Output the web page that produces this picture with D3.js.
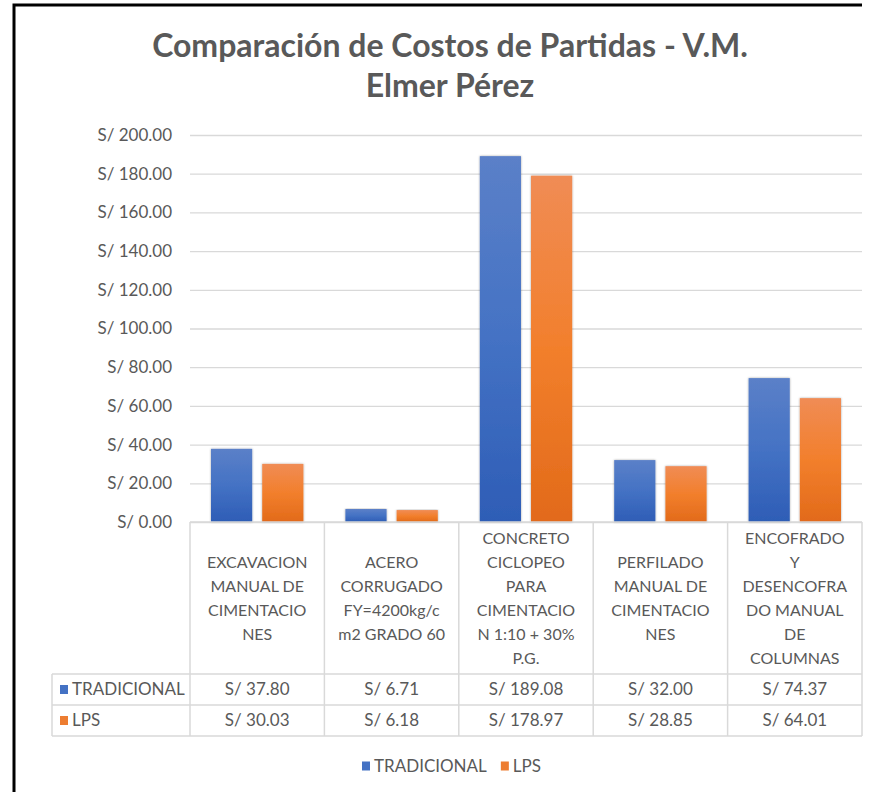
<!DOCTYPE html>
<html>
<head>
<meta charset="utf-8">
<script src="https://cdn.jsdelivr.net/npm/d3@7"></script>
<style>
  body { margin: 0; background: #fff; }
  svg { display: block; font-family: Lato, "Open Sans", sans-serif; }
</style>
</head>
<body>
<svg id="chart" width="870" height="792"></svg>
<script>
// data
const categories = ['EXCAVACION', 'ACERO', 'CONCRETO', 'PERFILADO', 'ENCOFRADO'];
const categoryLines = [
  ['EXCAVACION', 'MANUAL DE', 'CIMENTACIO', 'NES'],
  ['ACERO', 'CORRUGADO', 'FY=4200kg/c', 'm2 GRADO 60'],
  ['CONCRETO', 'CICLOPEO', 'PARA', 'CIMENTACIO', 'N 1:10 + 30%', 'P.G.'],
  ['PERFILADO', 'MANUAL DE', 'CIMENTACIO', 'NES'],
  ['ENCOFRADO', 'Y', 'DESENCOFRA', 'DO MANUAL', 'DE', 'COLUMNAS']
];
const seriesNames = ['TRADICIONAL', 'LPS'];
const tradicional = [37.80, 6.71, 189.08, 32.00, 74.37];
const lps = [30.03, 6.18, 178.97, 28.85, 64.01];
const yTicks = [0, 20, 40, 60, 80, 100, 120, 140, 160, 180, 200];
const titleLines = ['Comparación de Costos de Partidas - V.M.', 'Elmer Pérez'];

const seriesValues = [tradicional, lps];
const colors = { TRADICIONAL: '#4472c4', LPS: '#ed7d31' };
const textColor = '#595959';
const gridColor = '#d9d9d9';

const svg = d3.select('#chart');

const plot = { left: 190, right: 862, top: 135, bottom: 522 };
const tableLeft = 52;
const rowH = [152, 31, 31];

// gradients like the Excel fill
const defs = svg.append('defs');
const grads = [
  { id: 'g-TRADICIONAL', stops: ['#5b80c8', '#4472c4', '#2e5db6'] },
  { id: 'g-LPS', stops: ['#f08c55', '#f27f2c', '#e26a1a'] }
];
grads.forEach(g => {
  const lg = defs.append('linearGradient').attr('id', g.id)
    .attr('x1', 0).attr('y1', 0).attr('x2', 0).attr('y2', 1);
  g.stops.forEach((c, i) => lg.append('stop').attr('offset', i / 2).attr('stop-color', c));
});
defs.append('filter').attr('id', 'shadow')
  .attr('x', '-20%').attr('y', '-5%').attr('width', '140%').attr('height', '110%')
  .append('feDropShadow').attr('dx', 0).attr('dy', 0).attr('stdDeviation', 1.2)
  .attr('flood-color', '#000').attr('flood-opacity', 0.35);

// frame (only top and left edges are inside the picture)
svg.append('path')
  .attr('d', 'M14,792 L14,5 L862,5')
  .attr('fill', 'none').attr('stroke', '#000').attr('stroke-width', 3);

// title
svg.append('text')
  .attr('x', 450).attr('y', 57)
  .attr('text-anchor', 'middle')
  .attr('font-size', 32).attr('font-weight', 'bold').attr('fill', textColor)
  .selectAll('tspan').data(titleLines).join('tspan')
  .attr('x', 450).attr('dy', (d, i) => i === 0 ? 0 : 40)
  .text(d => d);

// scales
const y = d3.scaleLinear().domain([0, 200]).range([plot.bottom, plot.top]);
const col = d3.scaleBand().domain(categories).range([plot.left, plot.right]);
const x0 = d3.scaleBand().domain(categories).range([plot.left, plot.right])
  .paddingInner(0.3125).paddingOuter(0.15625);
const x1 = d3.scaleBand().domain(seriesNames).range([0, x0.bandwidth()]).paddingInner(0.196);

// gridlines + y axis labels
const yAxis = d3.axisLeft(y).tickValues(yTicks)
  .tickSize(-(plot.right - plot.left)).tickPadding(18)
  .tickFormat(d => 'S/ ' + d.toFixed(2));
const gy = svg.append('g').attr('transform', `translate(${plot.left},0)`).call(yAxis);
gy.select('.domain').remove();
gy.selectAll('.tick line').attr('stroke', gridColor).attr('stroke-width', 1.3);
gy.selectAll('.tick text').attr('fill', textColor).attr('font-size', 17)
  .attr('font-family', 'Lato, sans-serif');

// bars
const groups = svg.append('g').selectAll('g').data(categories).join('g')
  .attr('transform', d => `translate(${x0(d)},0)`);
groups.selectAll('rect')
  .data((d, i) => seriesNames.map((s, j) => ({ s, v: seriesValues[j][i] })))
  .join('rect')
  .attr('x', d => x1(d.s))
  .attr('y', d => y(d.v))
  .attr('width', x1.bandwidth())
  .attr('height', d => y(0) - y(d.v))
  .attr('fill', d => `url(#g-${d.s})`)
  .attr('filter', 'url(#shadow)');

// data table
const table = svg.append('g');
const rowTop = [plot.bottom, plot.bottom + rowH[0], plot.bottom + rowH[0] + rowH[1]];
const tableBottom = rowTop[2] + rowH[2];
const lineStyle = sel => sel.attr('stroke', gridColor).attr('stroke-width', 1.5).attr('fill', 'none');

// horizontal lines
table.append('line').attr('x1', plot.left).attr('x2', plot.right)
  .attr('y1', plot.bottom).attr('y2', plot.bottom).call(lineStyle);
[rowTop[1], rowTop[2], tableBottom].forEach(yy => {
  table.append('line').attr('x1', tableLeft).attr('x2', plot.right)
    .attr('y1', yy).attr('y2', yy).call(lineStyle);
});
// vertical lines
categories.forEach(c => {
  table.append('line').attr('x1', col(c)).attr('x2', col(c))
    .attr('y1', plot.bottom).attr('y2', tableBottom).call(lineStyle);
});
table.append('line').attr('x1', plot.right).attr('x2', plot.right)
  .attr('y1', plot.bottom).attr('y2', tableBottom).call(lineStyle);
table.append('line').attr('x1', tableLeft).attr('x2', tableLeft)
  .attr('y1', rowTop[1]).attr('y2', tableBottom).call(lineStyle);

// category labels
const lineH = 24;
categories.forEach((c, i) => {
  const lines = categoryLines[i];
  const cy = rowTop[0] + rowH[0] / 2;
  const startY = cy - (lines.length - 1) * lineH / 2;
  table.append('text')
    .attr('text-anchor', 'middle').attr('font-size', 16).attr('fill', textColor)
    .selectAll('tspan').data(lines).join('tspan')
    .attr('x', col(c) + col.bandwidth() / 2)
    .attr('y', (d, k) => startY + k * lineH)
    .attr('dy', '0.35em')
    .text(d => d);
});

// series rows
seriesNames.forEach((s, j) => {
  const cy = rowTop[j + 1] + rowH[j + 1] / 2;
  table.append('rect').attr('x', 60).attr('y', cy - 4.5).attr('width', 8).attr('height', 9)
    .attr('fill', colors[s]);
  table.append('text').attr('x', 72).attr('y', cy).attr('dy', '0.35em')
    .attr('font-size', 17).attr('fill', textColor).text(s);
  categories.forEach((c, i) => {
    table.append('text')
      .attr('x', col(c) + col.bandwidth() / 2).attr('y', cy).attr('dy', '0.35em')
      .attr('text-anchor', 'middle').attr('font-size', 17).attr('fill', textColor)
      .text('S/ ' + seriesValues[j][i].toFixed(2));
  });
});

// legend
const legend = svg.append('g').attr('transform', 'translate(362,766)');
let lx = 0;
seriesNames.forEach(s => {
  const item = legend.append('g').attr('transform', `translate(${lx},0)`);
  item.append('rect').attr('x', 0).attr('y', -4.5).attr('width', 8).attr('height', 9).attr('fill', colors[s]);
  const t = item.append('text').attr('x', 12).attr('dy', '0.35em')
    .attr('font-size', 17).attr('fill', textColor).text(s);
  lx += 12 + t.node().getComputedTextLength() + 14;
});
</script>
</body>
</html>
